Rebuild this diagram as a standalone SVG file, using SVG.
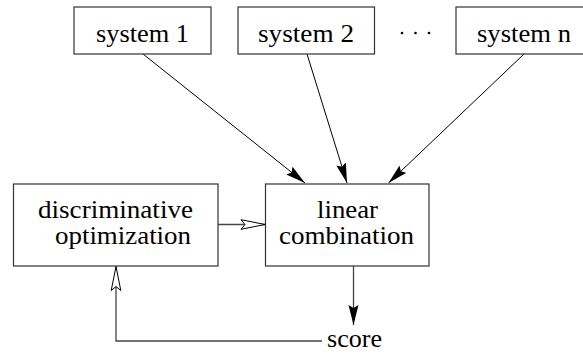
<svg xmlns="http://www.w3.org/2000/svg" width="583" height="354" viewBox="0 0 583 354">
  <style>
    .box { fill: #fff; stroke: #333; stroke-width: 1.2; }
    .lbl { font-family: 'Liberation Serif', 'DejaVu Serif', 'Times New Roman', serif; font-size: 26px; fill: #000; text-anchor: middle; }
    .edge { fill: none; stroke: #000; stroke-width: 1; }
    .edge2 { fill: none; stroke: #444; stroke-width: 1.3; }
  </style>
  <defs>
    <marker id="solid" markerUnits="userSpaceOnUse" markerWidth="24" markerHeight="14" refX="20" refY="5" orient="auto">
      <path d="M0,0 L20,5 L0,10 L3,5 z" fill="#000"/>
    </marker>
    <marker id="open" markerUnits="userSpaceOnUse" markerWidth="28" markerHeight="14" refX="25" refY="6" orient="auto">
      <path d="M25,6 L1,1.2 L5,6 L1,10.8 z" fill="#fff" stroke="#000" stroke-width="1"/>
    </marker>
  </defs>

  <g id="connectors">
    <line class="edge" x1="143" y1="54" x2="305" y2="183" marker-end="url(#solid)"/>
    <line class="edge" x1="307" y1="54" x2="347" y2="183" marker-end="url(#solid)"/>
    <line class="edge" x1="524" y1="54" x2="388.5" y2="183" marker-end="url(#solid)"/>
    <line class="edge2" x1="353.5" y1="266" x2="353.5" y2="325" marker-end="url(#solid)"/>
    <line class="edge2" x1="218" y1="224.5" x2="265" y2="224.5" marker-end="url(#open)"/>
    <polyline class="edge2" points="322,341 116,341 116,266.5" marker-end="url(#open)"/>
  </g>

  <g id="system1">
    <rect class="box" x="74" y="7" width="137" height="47"/>
    <text class="lbl" x="142.5" y="42" textLength="93" lengthAdjust="spacingAndGlyphs">system 1</text>
  </g>
  <g id="system2">
    <rect class="box" x="238" y="7" width="136.5" height="47"/>
    <text class="lbl" x="306" y="42" textLength="96" lengthAdjust="spacingAndGlyphs">system 2</text>
  </g>
  <g id="dots">
    <circle cx="402" cy="33" r="1.3" fill="#000"/>
    <circle cx="415.5" cy="33" r="1.3" fill="#000"/>
    <circle cx="429" cy="33" r="1.3" fill="#000"/>
  </g>
  <g id="systemn">
    <rect class="box" x="456" y="7" width="135" height="47"/>
    <text class="lbl" x="524" y="42" textLength="94" lengthAdjust="spacingAndGlyphs">system n</text>
  </g>
  <g id="optimizer">
    <rect class="box" x="13.5" y="184" width="204.5" height="82"/>
    <text class="lbl" x="115.5" y="218" textLength="155" lengthAdjust="spacingAndGlyphs">discriminative</text>
    <text class="lbl" x="123" y="244" textLength="136" lengthAdjust="spacingAndGlyphs">optimization</text>
  </g>
  <g id="combination">
    <rect class="box" x="265.5" y="184" width="163.5" height="82"/>
    <text class="lbl" x="347.5" y="218" textLength="61" lengthAdjust="spacingAndGlyphs">linear</text>
    <text class="lbl" x="346.5" y="244" textLength="135" lengthAdjust="spacingAndGlyphs">combination</text>
  </g>
  <g id="score">
    <text class="lbl" x="354.5" y="347" textLength="55" lengthAdjust="spacingAndGlyphs">score</text>
  </g>
</svg>
